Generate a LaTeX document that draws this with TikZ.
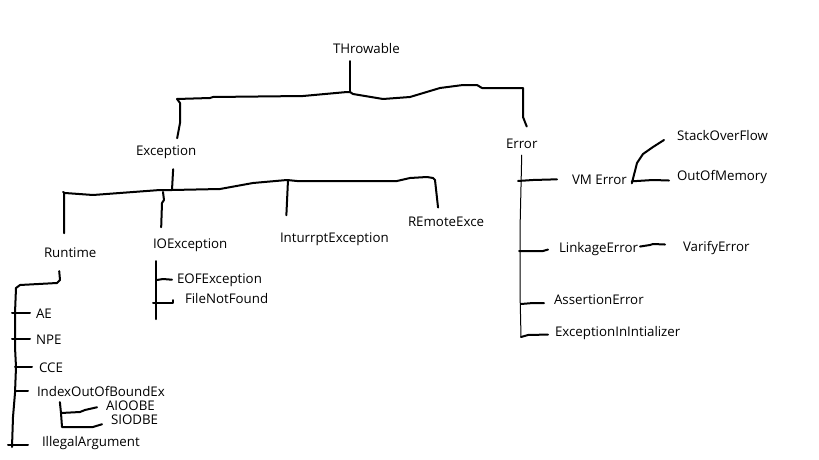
\documentclass[tikz,border=0pt]{standalone}
\usepackage{fontspec}
\setmainfont{Open Sans}
\usetikzlibrary{positioning}

\begin{document}
\begin{tikzpicture}[x=1pt, y=-1pt, line width=2pt, line join=round, line cap=round]
    \tikzstyle{cls}=[anchor=base west, inner sep=0pt, font=\fontsize{13.3}{15}\selectfont]
    \tikzstyle{thinline}=[line width=1pt]
    \useasboundingbox (0,0) rectangle (819,460);

    % Draw the top of the tree
    \node[cls] (thr) at (332,54) {THrowable};
    \node[cls] (exc) at (135,155) {Exception};
    \node[cls] (err) at (505,148) {Error};

    % Draw the exception branches
    \node[cls] (rt) at (43,257) {Runtime};
    \node[cls] (ioe) at (152,248) {IOException};
    \node[cls] (intr) at (279,242) {InturrptException};
    \node[cls] (rem) at (407,226) {REmoteExce};
    \node[cls] (eof) at (176,283) {EOFException};
    \node[cls] (fnf) at (184,303) {FileNotFound};

    % Draw the runtime exceptions
    \foreach \name/\txt/\x/\y in {ae/AE/35/318, npe/NPE/35/344, cce/CCE/38/372,
        ioob/IndexOutOfBoundEx/36/396, ill/IllegalArgument/41/446,
        aio/AIOOBE/105/410, sio/SIODBE/110/424}
    \node[cls] (\name) at (\x,\y) {\txt};

    % Draw the errors
    \node[cls] (vm) at (571,184) {VM Error};
    \node[cls] (sof) at (676,140) {StackOverFlow};
    \node[cls] (oom) at (676,180) {OutOfMemory};
    \node[cls] (lnk) at (558,252) {LinkageError};
    \node[cls] (vfy) at (682,251) {VarifyError};
    \node[cls] (ass) at (553,304) {AssertionError};
    \node[cls] (exi) at (554,336) {ExceptionInIntializer};

    % Throwable to Exception and Error
    \coordinate (tj) at (350,92);
    \draw (tj |- thr.south) ++(0,6) -- (tj);
    \draw (tj) -- (347,92) -- (303,96) -- (213,97) -- (210,98) -- (177,99)
        -- (180,103) -- (180,123) -- ([xshift=11pt,yshift=6pt]exc.north);
    \draw (tj) -- (353,94) -- (383,99) -- (410,97) -- (440,88) -- (463,85)
        -- (477,85) -- (482,88) -- (523,88) -- (523,117) -- ([xshift=5pt,yshift=11pt]err.north);

    % Exception to its subclasses
    \coordinate (ej) at (172,190);
    \draw ([xshift=7pt,yshift=-10pt]exc.south) -- (ej);
    \draw (63,192) -- (65,193) -- (93,195) -- (160,190) -- (ej) -- (220,189) -- (253,183)
        -- (287,180) -- (297,181) -- (397,181) -- (410,178) -- (427,177) -- (433,178)
        -- (435,180) -- ([xshift=-8pt,yshift=8pt]rem.north);
    \draw (64,193) -- ([xshift=-6pt,yshift=13pt]rt.north);
    \draw (163,192) -- (164,200) -- (162,203) -- ([xshift=-29pt,yshift=10pt]ioe.north);
    \draw (288,180) -- ([xshift=-48pt,yshift=16pt]intr.north);

    % Runtime to its subclasses
    \draw ([xshift=-11pt,yshift=-13pt]rt.south) -- (60,280) -- (57,283) -- (20,285) -- (16,288)
        -- (15,313) -- (15,347) -- (16,367) -- (15,393) -- (13,417) -- (12,447);
    \foreach \n/\s/\l in {ae/5/18, npe/5/18, cce/6/17, ioob/8/13}
    \draw ([xshift=-\s pt]\n.west) -- ++(-\l,0);
    \draw ([xshift=-13pt,yshift=-2pt]ill.west) -- ++(-20,0);
    \draw ([xshift=-41pt,yshift=-5pt]ioob.south) -- (61,413) -- (62,427)
        -- (93,427) -- ([xshift=-8pt,yshift=-5pt]sio.west);
    \draw (61,413) -- (80,412) -- (85,410) -- ([xshift=-8pt,yshift=-2pt]aio.west);

    % IOException to its subclasses
    \draw ([xshift=-34pt,yshift=-9pt]ioe.south) -- ++(0,58);
    \draw (157,280) -- (163,279) -- ([xshift=-4pt]eof.west);
    \draw (153,303) -- (173,303) -- ([xshift=-11pt,yshift=-2pt]fnf.west);

    % Error to its subclasses
    \draw[thinline] ([yshift=-6pt]err.south) -- (520,230) -- (520,292) -- (521,337);
    \draw (518,181) -- (533,180) -- ([xshift=-14pt]vm.west);
    \draw (519,251) -- (543,251) -- ([xshift=-10pt,yshift=-1pt]lnk.west);
    \draw (521,304) -- (533,303) -- ([xshift=-9pt,yshift=-4pt]ass.west);
    \draw (521,337) -- (528,335) -- ([xshift=-6pt,yshift=-2pt]exi.west);

    % VM Error and LinkageError to their subclasses
    \draw ([xshift=4pt,yshift=-4pt]vm.east) -- (637,163) -- (643,154) -- (653,147)
        -- ([xshift=-12pt,yshift=-5pt]sof.west);
    \draw ([xshift=4pt,yshift=-2pt]vm.east) -- (653,180) -- ([xshift=-7pt,yshift=-4pt]oom.west);
    \draw ([xshift=1pt,yshift=2pt]lnk.east) -- (650,245) -- (653,244)
        -- ([xshift=-17pt,yshift=3pt]vfy.west);
\end{tikzpicture}
\end{document}
